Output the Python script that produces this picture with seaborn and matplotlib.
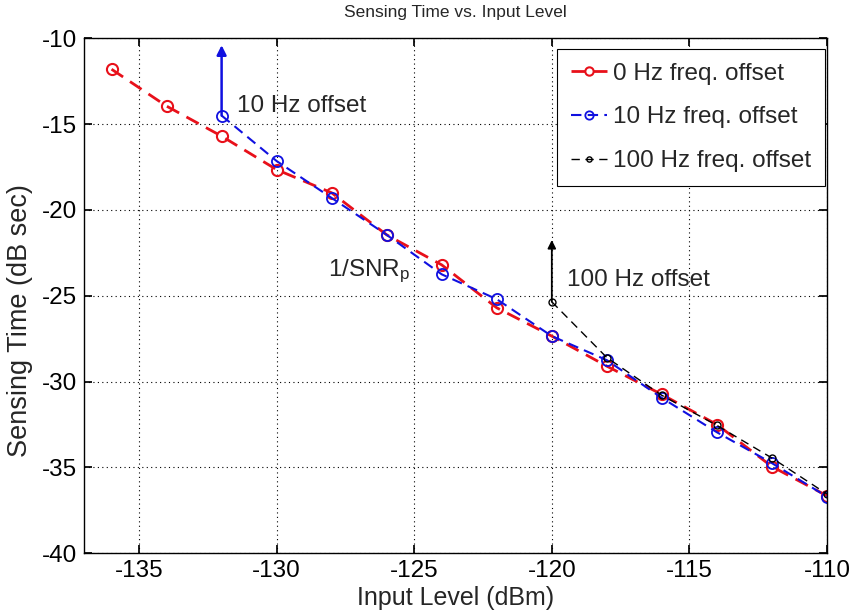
import matplotlib
matplotlib.use("Agg")
import matplotlib.pyplot as plt
import seaborn as sns
import pandas as pd

# Data
x_red = [-136, -134, -132, -130, -128, -126, -124, -122, -120, -118, -116, -114, -112, -110]
y_red = [-11.8, -13.95, -15.7, -17.65, -19.0, -21.45, -23.2, -25.7, -27.35, -29.1, -30.75, -32.5, -34.95, -36.65]

x_blue = [-132, -130, -128, -126, -124, -122, -120, -118, -116, -114, -112, -110]
y_blue = [-14.5, -17.15, -19.3, -21.45, -23.75, -25.2, -27.35, -28.75, -30.95, -32.95, -34.75, -36.7]

x_black = [-120, -118, -116, -114, -112, -110]
y_black = [-25.35, -28.6, -30.8, -32.55, -34.45, -36.55]

labels = ["0 Hz freq. offset", "10 Hz freq. offset", "100 Hz freq. offset"]
title = "Sensing Time vs. Input Level"
xlabel = "Input Level (dBm)"
ylabel = "Sensing Time (dB sec)"
xticks = [-135, -130, -125, -120, -115, -110]
yticks = [-40, -35, -30, -25, -20, -15, -10]

sns.set_theme(style="white")
plt.rcParams['font.family'] = ['Liberation Sans', 'DejaVu Sans']
plt.rcParams['mathtext.fontset'] = 'custom'
plt.rcParams['mathtext.rm'] = 'Liberation Sans'
plt.rcParams['mathtext.it'] = 'Liberation Sans'

FS = 17.5

fig = plt.figure(figsize=(8.53, 6.14), dpi=100)
ax = fig.add_axes([0.0985, 0.0989, 0.871, 0.8387])

df_r = pd.DataFrame({"x": x_red, "y": y_red})
df_b = pd.DataFrame({"x": x_blue, "y": y_blue})
df_k = pd.DataFrame({"x": x_black, "y": y_black})

sns.lineplot(data=df_r, x="x", y="y", ax=ax, color="#e8101a", linestyle=(0, (5, 3)), linewidth=2.0,
             marker="o", markersize=8, markerfacecolor="none", markeredgecolor="#e8101a",
             markeredgewidth=1.5, label=labels[0], sort=False)
sns.lineplot(data=df_b, x="x", y="y", ax=ax, color="#1010e0", linestyle=(0, (5, 3)), linewidth=1.5,
             marker="o", markersize=8, markerfacecolor="none", markeredgecolor="#1010e0",
             markeredgewidth=1.3, label=labels[1], sort=False)
sns.lineplot(data=df_k, x="x", y="y", ax=ax, color="black", linestyle=(0, (6, 4)), linewidth=1.0,
             marker="o", markersize=5, markerfacecolor="none", markeredgecolor="black",
             markeredgewidth=1.0, label=labels[2], sort=False)

# Arrows
ax.annotate("", xy=(x_blue[0], -10.4), xytext=(x_blue[0], y_blue[0]),
            arrowprops=dict(arrowstyle="-|>", color="#1010e0", lw=1.8, mutation_scale=14,
                            shrinkA=0, shrinkB=0))
ax.annotate("", xy=(x_black[0], -21.75), xytext=(x_black[0], y_black[0]),
            arrowprops=dict(arrowstyle="-|>", color="black", lw=1.3, mutation_scale=12,
                            shrinkA=0, shrinkB=0))

ax.text(-131.45, -13.95, "10 Hz offset", fontsize=FS, va="center", ha="left")
ax.text(-128.15, -23.55, r"1/SNR$_\mathrm{p}$", fontsize=FS, va="center", ha="left")
ax.text(-119.45, -24.1, "100 Hz offset", fontsize=FS, va="center", ha="left")

ax.set_xlim(-137, -110)
ax.set_ylim(-40, -10)
ax.set_xticks(xticks)
ax.set_yticks(yticks)
ax.set_xticklabels([str(v) for v in xticks])
ax.set_yticklabels([str(v) for v in yticks])
ax.tick_params(direction="in", length=6, labelsize=FS, colors="black", top=True, right=True,
               bottom=True, left=True, labelcolor="black", pad=5)
ax.grid(True, linestyle=(0, (1, 3)), color="black", linewidth=0.8)
for s in ax.spines.values():
    s.set_visible(True)
    s.set_color("black")
    s.set_linewidth(1.0)

ax.set_xlabel(xlabel, fontsize=18, labelpad=3)
ax.set_ylabel(ylabel, fontsize=19.5)
ax.yaxis.label.set_va("center")
ax.yaxis.set_label_coords(-0.086, 0.451)
fig.text(0.5 * (0.0985 + 0.9695), 1 - 13 / 614, title, fontsize=12.5, ha="center", va="center")

leg = ax.legend(loc="upper right", bbox_to_anchor=(0.997, 0.979), borderaxespad=0,
                fontsize=FS, frameon=True, fancybox=False, framealpha=1, edgecolor="black",
                handlelength=1.5, handletextpad=0.25, labelspacing=0.9, borderpad=0.55,
                markerscale=0.75)
leg.get_frame().set_linewidth(0.8)

fig.savefig("out.png", dpi=100)
